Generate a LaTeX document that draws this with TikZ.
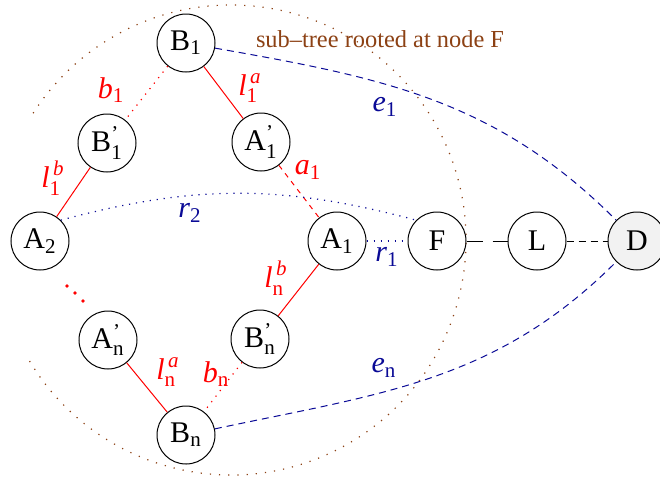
\documentclass[tikz,border=0pt]{standalone}
\usepackage{amsmath}
\usepackage{fontspec}
\setmainfont{Liberation Serif}
\definecolor{linkblue}{RGB}{10,10,150}
\definecolor{treebrown}{RGB}{140,65,20}
\tikzset{
  vertex/.style    = {circle,draw,line width=0.5pt,minimum size=29pt,inner sep=0pt,
                      font=\fontsize{15}{18}\selectfont},
  dvertex/.style   = {vertex,fill=black!5},
  redline/.style   = {red,line width=0.5pt},
  reddots/.style   = {red,line width=0.6pt,dash pattern=on 0.6pt off 2.9pt},
  reddash/.style   = {red,line width=0.5pt,dash pattern=on 2.5pt off 2.5pt},
  bluedots/.style  = {linkblue,line width=0.6pt,dash pattern=on 0.6pt off 2.9pt},
  bluedash/.style  = {linkblue,line width=0.5pt,dash pattern=on 3.5pt off 2.5pt},
  redtag/.style    = {red,inner sep=0pt,font=\fontsize{15}{18}\selectfont},
  bluetag/.style   = {linkblue,inner sep=0pt,font=\fontsize{15}{18}\selectfont}
}
\newcommand{\ltag}[2]{$\textit{l}^{\,\textit{#1}}_{\textup{#2}}$}
\newcommand{\vtag}[2]{$\textit{#1}_{\textup{#2}}$}
\newcommand{\vname}[2]{#1$_{\textup{#2}}$}
\newcommand{\pname}[2]{#1$^{\textup{’}}_{\textup{#2}}$}

\begin{document}
\begin{tikzpicture}[x=0.5pt,y=-0.5pt]
  \useasboundingbox (0,0) rectangle (660,479);
  % sub-tree boundary
  \coordinate (ctr) at (231,240);
  \draw[treebrown,line width=0.6pt,dash pattern=on 0.6pt off 4pt]
    (ctr) ++(211:117.5pt) arc[start angle=211,end angle=509,radius=117.5pt];
  \node[treebrown,font=\fontsize{12.2}{14}\selectfont] (sub) at (380,39)
    {sub--tree rooted at node F};

  \node[vertex]  (B1)  at (186,43)  {\vname{B}{1}};
  \node[vertex]  (B1p) at (107,143) {\pname{B}{1}};
  \node[vertex]  (A1p) at (261,142) {\pname{A}{1}};
  \node[vertex]  (A2)  at (40,241)  {\vname{A}{2}};
  \node[vertex]  (A1)  at (337,241) {\vname{A}{1}};
  \node[vertex]  (F)   at (437,241) {F};
  \node[vertex]  (L)   at (537,241) {L};
  \node[dvertex] (D)   at (637,241) {D};
  \node[vertex]  (Anp) at (108,340) {\pname{A}{n}};
  \node[vertex]  (Bnp) at (260,339) {\pname{B}{n}};
  \node[vertex]  (Bn)  at (186,435) {\vname{B}{n}};

  % red tree edges
  \draw[redline] (B1) -- (A1p);
  \draw[reddots] (B1) -- (B1p);
  \draw[redline] (B1p) -- (A2);
  \draw[reddash] (A1p) -- (A1);
  \draw[redline] (A1) -- (Bnp);
  \draw[reddots] (Bnp) -- (Bn);
  \draw[redline] (Anp) -- (Bn);
  \foreach \px/\py in {67/286,75/293,83/301}
    \fill[red] (\px,\py) circle (0.9pt);

  % links towards F and D
  \draw[bluedots] (A2.45) to[out=15,in=165] (F.135);
  \draw[bluedots] (A1) -- (F);
  \draw[line width=0.5pt,dash pattern=on 8pt off 5pt] (F) -- (L);
  \draw[line width=0.5pt,dash pattern=on 3.5pt off 2.5pt] (L) -- (D);
  \draw[bluedash] (B1) to[out=-10,in=135] (D);
  \draw[bluedash] (Bn) to[out=12,in=225] (D);

  \node[redtag]  (tb1) at (111,90)  {\vtag{b}{1}};
  \node[redtag]  (ta1) at (250,88)  {\ltag{a}{1}};
  \node[redtag]  (tl1) at (53,178)  {\ltag{b}{1}};
  \node[redtag]  (tx1) at (308,170) {\vtag{a}{1}};
  \node[redtag]  (tbn) at (276,278) {\ltag{b}{n}};
  \node[redtag]  (tan) at (168,372) {\ltag{a}{n}};
  \node[redtag]  (tyn) at (216,374) {\vtag{b}{n}};
  \node[bluetag] (tr2) at (190,213) {\vtag{r}{2}};
  \node[bluetag] (tr1) at (387,257) {\vtag{r}{1}};
  \node[bluetag] (te1) at (385,107) {\vtag{e}{1}};
  \node[bluetag] (ten) at (384,368) {\vtag{e}{n}};
\end{tikzpicture}
\end{document}
